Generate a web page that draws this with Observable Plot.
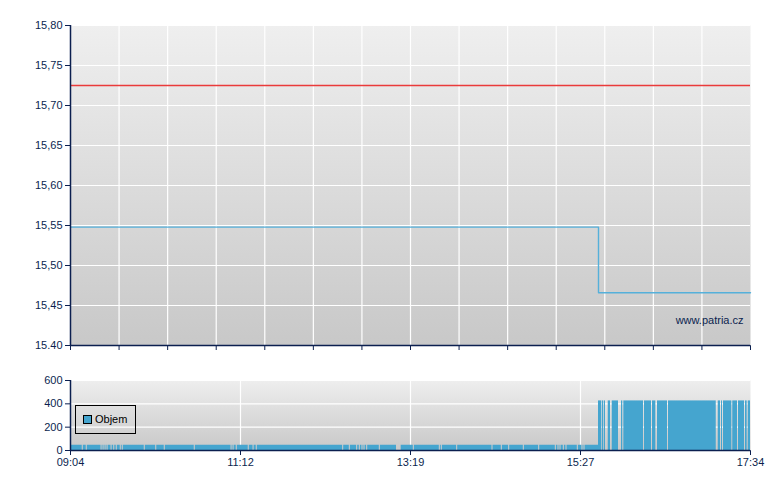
<!DOCTYPE html>
<html>
<head>
<meta charset="utf-8">
<script src="https://cdn.jsdelivr.net/npm/d3@7"></script>
<script src="https://cdn.jsdelivr.net/npm/@observablehq/plot@0.6"></script>
<style>
  html, body { margin: 0; padding: 0; background: #fff; }
  #wrap { position: relative; width: 780px; height: 490px; font-family: "Liberation Sans", Arial, sans-serif; }
  #wrap svg { display: block; }
  #legend { position: absolute; left: 75px; top: 405px; width: 59px; height: 27px; border: 1px solid #000; box-sizing: content-box; }
  #legend .sw { position: absolute; left: 7px; top: 9px; width: 7px; height: 7px; background: #45a5cf; border: 1px solid #000; }
  #legend .lb { position: absolute; left: 19px; top: 7px; font-size: 11px; color: #000; line-height: 13px; }
</style>
</head>
<body>
<div id="wrap">
  <div id="top"></div>
  <div id="bottom"></div>
  <div id="legend"><div class="sw"></div><div class="lb">Objem</div></div>
</div>
<script>
// ---- data ----
const startTime = "09:04";
const endTime = "17:34";
const timeTickLabels = ["09:04", "11:12", "13:19", "15:27", "17:34"];
const priceTicks = [15.40, 15.45, 15.50, 15.55, 15.60, 15.65, 15.70, 15.75, 15.80];
const volumeTicks = [0, 200, 400, 600];
const previousClose = 15.725;
// price: minutes after opening, value
const priceMinutes = [0, 396, 510];
const priceValues = [15.548, 15.466, 15.466];
// volume runs: start minute, end minute, volume
const volStart = [0, 9.6, 12.6, 23.7, 25.2, 26.7, 28.2, 31.2, 33.2, 35.1, 38.1, 39.6, 56.1, 64.7, 71.1, 93.6, 121.2, 122.7, 125.1, 134.1, 137.7, 140.1, 204.9, 209.9, 215.4, 217.4, 219.4, 220.9, 222.9, 232.4, 248, 257.9, 277.4, 278.9, 290.4, 316.9, 323.9, 329.4, 340.4, 351.9, 364.4, 366.4, 367.9, 370.4, 372.4, 380.9, 384.4, 385.9,
  396, 398.8, 400.3, 403.3, 406.3, 413.25, 415, 430.5, 436.5, 440.25, 448.5, 485.8, 488.25, 489.75, 496.7, 501, 506.25, 508.3];
const volEnd = [8.8, 11.8, 22.9, 24.4, 25.9, 27.4, 30.4, 32.4, 34.3, 37.3, 38.8, 55.3, 63.9, 70.3, 92.8, 120.4, 121.9, 124.3, 133.3, 136.9, 139.3, 204.1, 209.1, 214.6, 216.6, 218.6, 220.1, 222.1, 231.6, 244.5, 257.1, 276.6, 278.1, 289.6, 316.1, 323.1, 328.6, 339.6, 351.1, 363.6, 365.6, 367.1, 369.6, 371.6, 380.1, 383.6, 385.1, 396,
  398.25, 399.75, 401.25, 405, 411, 414.2, 429.75, 435.75, 439, 447.75, 484.3, 487.5, 489, 496, 500.25, 505.5, 507.5, 510];
const volValue = [45, 45, 45, 45, 45, 45, 45, 45, 45, 45, 45, 45, 45, 45, 45, 45, 45, 45, 45, 45, 45, 45, 45, 45, 45, 45, 45, 45, 45, 45, 45, 45, 45, 45, 45, 45, 45, 45, 45, 45, 45, 45, 45, 45, 45, 45, 45, 45,
  425, 425, 425, 425, 425, 425, 425, 425, 425, 425, 425, 425, 425, 425, 425, 425, 425, 425];

// ---- derived ----
const toMin = s => { const [h, m] = s.split(":").map(Number); return h * 60 + m; };
const span = toMin(endTime) - toMin(startTime);
const topTicks = d3.range(15).map(i => i * span / 14);
const bottomTicks = timeTickLabels.map((_, i) => i * span / (timeTickLabels.length - 1));
const price = priceMinutes.map((m, i) => ({m, v: priceValues[i]}));
const volume = volStart.map((s, i) => ({s, e: volEnd[i], v: volValue[i]}));

const navy = "#0b1f4f";
const font = "Liberation Sans, Arial, sans-serif";

function addGradient(svg, id, c0, c1) {
  const ns = "http://www.w3.org/2000/svg";
  const defs = document.createElementNS(ns, "defs");
  const g = document.createElementNS(ns, "linearGradient");
  g.setAttribute("id", id);
  g.setAttribute("x1", "0"); g.setAttribute("y1", "0");
  g.setAttribute("x2", "0"); g.setAttribute("y2", "1");
  [[0, c0], [1, c1]].forEach(([o, c]) => {
    const st = document.createElementNS(ns, "stop");
    st.setAttribute("offset", o);
    st.setAttribute("stop-color", c);
    g.appendChild(st);
  });
  defs.appendChild(g);
  svg.insertBefore(defs, svg.firstChild);
}

const topChart = Plot.plot({
  width: 780, height: 355,
  marginTop: 25, marginBottom: 10, marginLeft: 70, marginRight: 30,
  style: {fontFamily: font, fontSize: "11px", color: navy, background: "transparent"},
  x: {domain: [0, span], ticks: topTicks, tickFormat: () => "", tickSize: 5, label: null},
  y: {domain: [15.40, 15.80], ticks: priceTicks, tickSize: 5, tickPadding: 3, label: null,
      tickFormat: d => Math.abs(d - 15.40) < 1e-9 ? "15.40" : d.toFixed(2).replace(".", ",")},
  marks: [
    Plot.frame({fill: "url(#gTop)", stroke: "none"}),
    Plot.ruleY(priceTicks, {stroke: "#fff", strokeWidth: 1.2}),
    Plot.ruleX(topTicks.slice(1, -1), {stroke: "#fff", strokeWidth: 1.2}),
    Plot.ruleY([previousClose], {stroke: "#ea3b3b", strokeWidth: 1.4}),
    Plot.line(price, {x: "m", y: "v", curve: "step-after", stroke: "#55b0da", strokeWidth: 1.4}),
    Plot.text(["www.patria.cz"], {frameAnchor: "bottom-right", dx: -7, dy: -22, text: d => d, fill: navy, fontSize: 11, textAnchor: "end"}),
    Plot.ruleX([0], {stroke: navy, strokeWidth: 1.5}),
    Plot.ruleY([15.40], {stroke: navy, strokeWidth: 1.5})
  ]
});
addGradient(topChart, "gTop", "#efefef", "#c8c8c8");
document.getElementById("top").appendChild(topChart);

const bottomChart = Plot.plot({
  width: 780, height: 135,
  marginTop: 25, marginBottom: 40, marginLeft: 70, marginRight: 30,
  style: {fontFamily: font, fontSize: "11px", color: navy, background: "transparent"},
  x: {domain: [0, span], ticks: bottomTicks, tickFormat: (d, i) => timeTickLabels[i], tickSize: 5, tickPadding: 3, label: null},
  y: {domain: [0, 600], ticks: volumeTicks, tickSize: 5, tickPadding: 3, label: null},
  marks: [
    Plot.frame({fill: "url(#gBot)", stroke: "none"}),
    Plot.ruleY(volumeTicks.slice(1), {stroke: "#fff", strokeWidth: 1.2}),
    Plot.ruleX(bottomTicks.slice(1, -1), {stroke: "#fff", strokeWidth: 1.2}),
    Plot.rectY(volume, {x1: "s", x2: "e", y1: 0, y2: "v", fill: "#45a5cf", inset: 0}),
    Plot.ruleX([0], {stroke: navy, strokeWidth: 1.5}),
    Plot.ruleY([0], {stroke: navy, strokeWidth: 1.5})
  ]
});
addGradient(bottomChart, "gBot", "#eeeeee", "#c8c8c8");
document.getElementById("bottom").appendChild(bottomChart);
</script>
</body>
</html>
